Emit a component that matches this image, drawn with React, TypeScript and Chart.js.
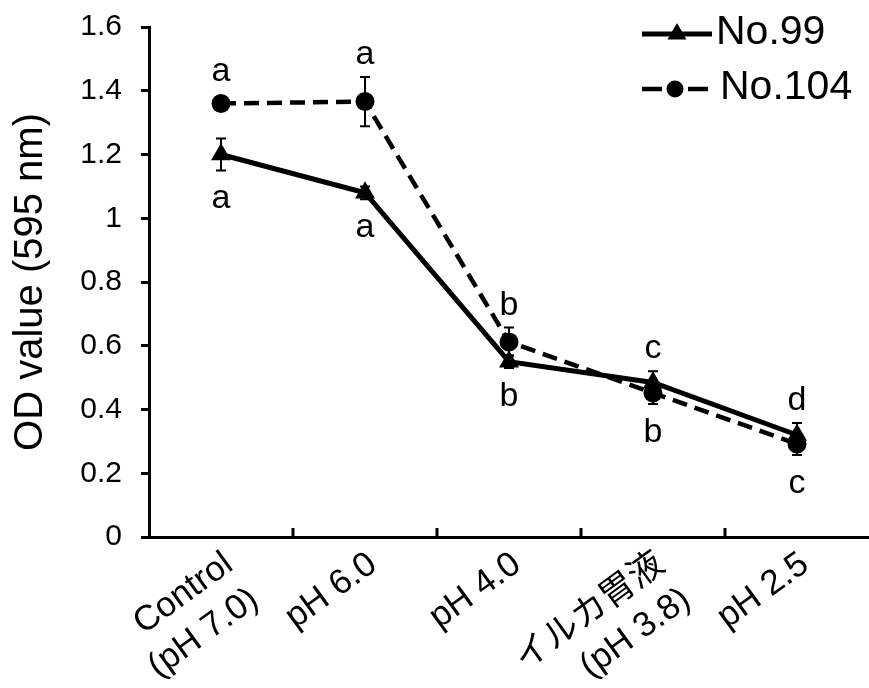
import React, { useEffect, useRef } from 'react';
import { Chart, registerables } from 'chart.js';

Chart.register(...registerables);

const categories: (string | string[])[] = [
  ['Control', '(pH 7.0)'],
  'pH 6.0',
  'pH 4.0',
  ['イルカ胃液', '(pH 3.8)'],
  'pH 2.5',
];

const no99Values = [1.2, 1.08, 0.55, 0.485, 0.32];
const no99Errors = [0.05, 0.02, 0.02, 0.035, 0.038];
const no99Letters = ['a', 'a', 'b', 'c', 'd'];
const no99LetterSide = ['below', 'below', 'below', 'above', 'above'];

const no104Values = [1.36, 1.366, 0.612, 0.452, 0.292];
const no104Errors = [0.015, 0.077, 0.045, 0.035, 0.035];
const no104Letters = ['a', 'a', 'b', 'b', 'c'];
const no104LetterSide = ['above', 'above', 'above', 'below', 'below'];

const yMin = 0;
const yMax = 1.6;
const yStep = 0.2;
const yTickLabels = ['0', '0.2', '0.4', '0.6', '0.8', '1', '1.2', '1.4', '1.6'];

const FONT = "'Liberation Sans', Arial, Helvetica, 'Noto Sans CJK JP', sans-serif";

const errorAndLetterPlugin = {
  id: 'errorAndLetters',
  afterDatasetsDraw(chart: any) {
    const ctx = chart.ctx;
    const yScale = chart.scales.y;
    chart.data.datasets.forEach((ds: any, di: number) => {
      const meta = chart.getDatasetMeta(di);
      meta.data.forEach((pt: any, i: number) => {
        const v = ds.data[i];
        const e = ds.errors[i];
        const x = pt.x;
        const yt = yScale.getPixelForValue(v + e);
        const yb = yScale.getPixelForValue(v - e);
        ctx.save();
        ctx.strokeStyle = '#000';
        ctx.lineWidth = 2;
        ctx.setLineDash([]);
        ctx.beginPath();
        ctx.moveTo(x, yt);
        ctx.lineTo(x, yb);
        ctx.moveTo(x - 5, yt);
        ctx.lineTo(x + 5, yt);
        ctx.moveTo(x - 5, yb);
        ctx.lineTo(x + 5, yb);
        ctx.stroke();

        const r = ds.pointRadius;
        const markTop = pt.y - r;
        const markBottom = pt.y + (ds.pointStyle === 'triangle' ? r * 0.5 : r);
        ctx.fillStyle = '#000';
        ctx.font = `34px ${FONT}`;
        ctx.textAlign = 'center';
        ctx.textBaseline = 'alphabetic';
        const letter = ds.letters[i];
        if (ds.letterSide[i] === 'above') {
          ctx.fillText(letter, x, Math.min(yt, markTop) - 13);
        } else {
          ctx.fillText(letter, x, Math.max(yb, markBottom) + 38);
        }
        ctx.restore();
      });
    });
  },
};

const axisTickPlugin = {
  id: 'innerXTicks',
  afterDraw(chart: any) {
    const ctx = chart.ctx;
    const xs = chart.scales.x;
    const bottom = chart.chartArea.bottom;
    ctx.save();
    ctx.strokeStyle = '#000';
    ctx.lineWidth = 3;
    ctx.beginPath();
    for (let i = 0; i < categories.length - 1; i++) {
      const bx = (xs.getPixelForValue(i) + xs.getPixelForValue(i + 1)) / 2;
      ctx.moveTo(bx, bottom);
      ctx.lineTo(bx, bottom - 9);
    }
    ctx.stroke();
    ctx.restore();
  },
};

const legendPlugin = {
  id: 'customLegend',
  afterDraw(chart: any) {
    const ctx = chart.ctx;
    const entries = [
      { ds: chart.data.datasets[0], y: 34, x0: 642, x1: 712, mx: 677, tx: 716, dash: [] as number[] },
      { ds: chart.data.datasets[1], y: 89, x0: 642, x1: 708, mx: 675, tx: 720, dash: [20, 26] },
    ];
    entries.forEach((en) => {
      ctx.save();
      ctx.strokeStyle = '#000';
      ctx.fillStyle = '#000';
      ctx.lineWidth = en.ds.borderWidth;
      ctx.setLineDash(en.dash);
      ctx.beginPath();
      ctx.moveTo(en.x0, en.y);
      ctx.lineTo(en.x1, en.y);
      ctx.stroke();
      ctx.setLineDash([]);
      ctx.beginPath();
      if (en.ds.pointStyle === 'triangle') {
        const r = 11;
        ctx.moveTo(en.mx, en.y - r);
        ctx.lineTo(en.mx + r * 0.866, en.y + r * 0.5);
        ctx.lineTo(en.mx - r * 0.866, en.y + r * 0.5);
        ctx.closePath();
      } else {
        ctx.arc(en.mx, en.y, 8.5, 0, Math.PI * 2);
      }
      ctx.fill();
      ctx.font = `41px ${FONT}`;
      ctx.textAlign = 'left';
      ctx.textBaseline = 'middle';
      ctx.fillText(en.ds.label, en.tx, en.y - 1);
      ctx.restore();
    });
  },
};

export default function App() {
  const canvasRef = useRef<HTMLCanvasElement | null>(null);

  useEffect(() => {
    if (!canvasRef.current) return;
    const chart = new Chart(canvasRef.current, {
      type: 'line',
      data: {
        labels: categories,
        datasets: [
          {
            label: 'No.99',
            data: no99Values,
            errors: no99Errors,
            letters: no99Letters,
            letterSide: no99LetterSide,
            borderColor: '#000',
            backgroundColor: '#000',
            borderWidth: 5,
            pointStyle: 'triangle',
            pointRadius: 11.5,
            pointBorderWidth: 0,
            pointBackgroundColor: '#000',
            tension: 0,
          } as any,
          {
            label: 'No.104',
            data: no104Values,
            errors: no104Errors,
            letters: no104Letters,
            letterSide: no104LetterSide,
            borderColor: '#000',
            backgroundColor: '#000',
            borderWidth: 4.5,
            borderDash: [15, 8],
            pointStyle: 'circle',
            pointRadius: 9.5,
            pointBorderWidth: 0,
            pointBackgroundColor: '#000',
            tension: 0,
          } as any,
        ],
      },
      options: {
        responsive: false,
        animation: false,
        devicePixelRatio: 1,
        layout: { autoPadding: false, padding: { top: 27, right: 0, bottom: 0, left: 0 } },
        plugins: {
          legend: { display: false },
          tooltip: { enabled: false },
        },
        scales: {
          x: {
            type: 'category',
            offset: true,
            grid: { display: false, drawTicks: false },
            border: { display: true, color: '#000', width: 3 },
            ticks: {
              autoSkip: false,
              minRotation: 36,
              maxRotation: 36,
              labelOffset: 8,
              padding: 6,
              color: '#000',
              font: { family: FONT, size: 35, lineHeight: 1.25 },
            },
            afterFit: (scale: any) => {
              scale.height = 151;
              scale.paddingLeft = 0;
              scale.paddingRight = 0;
            },
          },
          y: {
            min: yMin,
            max: yMax,
            grid: {
              display: true,
              drawOnChartArea: false,
              drawTicks: true,
              tickLength: 8,
              color: '#000',
              lineWidth: 3,
            },
            border: { display: true, color: '#000', width: 3 },
            ticks: {
              stepSize: yStep,
              padding: 19,
              color: '#000',
              font: { family: FONT, size: 30 },
              callback: (_v: any, i: number) => yTickLabels[i],
            },
            title: {
              display: true,
              text: 'OD value (595 nm)',
              color: '#000',
              font: { family: FONT, size: 40 },
              padding: { top: 7, bottom: 0 },
            },
            afterFit: (scale: any) => {
              scale.width = 149;
              scale.paddingTop = 0;
              scale.paddingBottom = 0;
            },
          },
        },
      } as any,
      plugins: [errorAndLetterPlugin, axisTickPlugin, legendPlugin],
    });
    return () => chart.destroy();
  }, []);

  return (
    <div style={{ position: 'absolute', left: 0, top: 0, width: 869, height: 688, background: '#fff' }}>
      <canvas ref={canvasRef} width={869} height={688} style={{ width: 869, height: 688 }} />
    </div>
  );
}
